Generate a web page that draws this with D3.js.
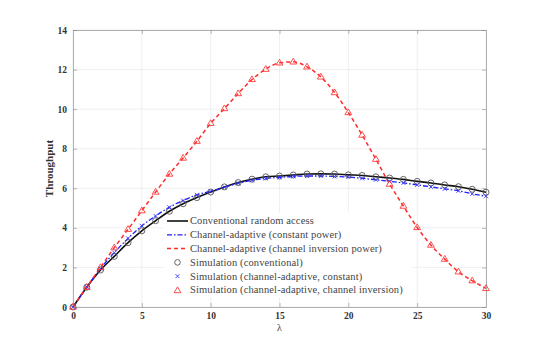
<!DOCTYPE html>
<html><head><meta charset="utf-8">
<script src="https://cdn.jsdelivr.net/npm/d3@7"></script>
<style>
html,body{margin:0;padding:0;background:#fff;}
svg{display:block;font-family:"Liberation Serif","DejaVu Serif",serif;}
</style></head>
<body><svg id="c" width="533" height="340"></svg>
<script>
const lambdas = d3.range(0, 31);
const conventional = [0,1.0,1.87,2.56,3.25,3.85,4.36,4.84,5.22,5.53,5.81,6.07,6.29,6.46,6.58,6.62,6.67,6.72,6.73,6.72,6.68,6.65,6.58,6.52,6.45,6.35,6.27,6.17,6.08,5.95,5.8];
const adaptiveConst = [0,1.0,1.95,2.75,3.47,4.1,4.6,5.04,5.38,5.67,5.85,6.05,6.25,6.4,6.5,6.55,6.6,6.62,6.62,6.6,6.57,6.5,6.43,6.35,6.27,6.17,6.07,5.97,5.87,5.72,5.6];
const adaptiveInv = [0,1.0,2.0,3.0,3.93,4.87,5.81,6.72,7.53,8.38,9.28,10.03,10.79,11.5,12.02,12.34,12.39,12.14,11.63,10.84,9.83,8.69,7.47,6.21,5.1,4.02,3.13,2.42,1.78,1.33,0.94];
const xTicks = [0,5,10,15,20,25,30];
const yTicks = [0,2,4,6,8,10,12,14];
const legendLabels = ["Conventional random access","Channel-adaptive (constant power)","Channel-adaptive (channel inversion power)","Simulation (conventional)","Simulation (channel-adaptive, constant)","Simulation (channel-adaptive, channel inversion)"];

const svg = d3.select("#c");
const L = 73, T = 30, W = 413, H = 277;
const x = d3.scaleLinear().domain([0,30]).range([L, L+W]);
const y = d3.scaleLinear().domain([0,14]).range([T+H, T]);

// grid
svg.append("g").selectAll("line").data(xTicks).join("line")
  .attr("x1", d=>x(d)).attr("x2", d=>x(d)).attr("y1", T).attr("y2", T+H)
  .attr("stroke","#ebebeb").attr("stroke-width",0.8);
svg.append("g").selectAll("line").data(yTicks).join("line")
  .attr("y1", d=>y(d)).attr("y2", d=>y(d)).attr("x1", L).attr("x2", L+W)
  .attr("stroke","#ebebeb").attr("stroke-width",0.8);

// axes
const axB = svg.append("g").attr("transform",`translate(0,${T+H})`)
  .call(d3.axisBottom(x).tickValues(xTicks).tickSize(-4).tickPadding(5));
const axT = svg.append("g").attr("transform",`translate(0,${T})`)
  .call(d3.axisTop(x).tickValues(xTicks).tickSize(-4).tickFormat(""));
const axL = svg.append("g").attr("transform",`translate(${L},0)`)
  .call(d3.axisLeft(y).tickValues(yTicks).tickSize(-4).tickPadding(6));
const axR = svg.append("g").attr("transform",`translate(${L+W},0)`)
  .call(d3.axisRight(y).tickValues(yTicks).tickSize(-4).tickFormat(""));
[axB,axT,axL,axR].forEach(a=>{
  a.selectAll("path").attr("stroke","#b0b0b0").attr("stroke-width",1);
  a.selectAll("line").attr("stroke","#888").attr("stroke-width",0.6);
  a.selectAll("text").attr("font-family","'Liberation Serif','DejaVu Serif',serif")
   .attr("font-size",9.5).attr("font-weight","bold").attr("fill","#333");
});

// axis labels
svg.append("text").attr("x", x(15)).attr("y", 331).attr("text-anchor","middle")
  .attr("font-size",10).attr("fill","#333").text("λ");
svg.append("text").attr("transform",`translate(53,${y(7)}) rotate(-90)`)
  .attr("text-anchor","middle").attr("font-size",11).attr("font-weight","bold")
  .attr("fill","#333").text("Throughput");

const line = d3.line().x((d,i)=>x(lambdas[i])).y(d=>y(d)).curve(d3.curveMonotoneX);

// legend background (drawn before curves)
const lgX = 163, lgY = 213, lgRow = 13.8;
svg.append("rect").attr("x",lgX).attr("y",lgY).attr("width",250).attr("height",lgRow*6+2).attr("fill","#fff");

svg.append("path").datum(conventional).attr("d",line).attr("fill","none")
  .attr("stroke","#111").attr("stroke-width",1.6);
svg.append("path").datum(adaptiveConst).attr("d",line).attr("fill","none")
  .attr("stroke","#1f1fff").attr("stroke-width",1.3).attr("stroke-dasharray","5,2,1.5,2");
svg.append("path").datum(adaptiveInv).attr("d",line).attr("fill","none")
  .attr("stroke","#ff2a2a").attr("stroke-width",1.5).attr("stroke-dasharray","4,3");

// markers
svg.append("g").selectAll("circle").data(conventional).join("circle")
  .attr("cx",(d,i)=>x(lambdas[i])).attr("cy",d=>y(d)).attr("r",3)
  .attr("fill","none").attr("stroke","#555").attr("stroke-width",0.9);
const cross = (g, cx, cy, s) => g.append("path")
  .attr("d",`M${cx-s},${cy-s}L${cx+s},${cy+s}M${cx-s},${cy+s}L${cx+s},${cy-s}`)
  .attr("stroke","#3a3aff").attr("stroke-width",0.9).attr("fill","none");
const gx = svg.append("g");
adaptiveConst.forEach((d,i)=>cross(gx, x(lambdas[i]), y(d), 2));
const tri = (cx, cy, s) => `M${cx},${cy-s}L${cx+s*0.95},${cy+s*0.6}L${cx-s*0.95},${cy+s*0.6}Z`;
svg.append("g").selectAll("path").data(adaptiveInv).join("path")
  .attr("d",(d,i)=>tri(x(lambdas[i]), y(d), 3.6))
  .attr("fill","none").attr("stroke","#ff3b3b").attr("stroke-width",0.9);

// legend
const lg = svg.append("g");
legendLabels.forEach((t,i)=>{
  const cy = lgY + 8 + i*lgRow;
  const x1 = lgX+4, x2 = lgX+25, xm = (x1+x2)/2;
  if (i===0) lg.append("line").attr("x1",x1).attr("x2",x2).attr("y1",cy).attr("y2",cy).attr("stroke","#111").attr("stroke-width",1.6);
  if (i===1) lg.append("line").attr("x1",x1).attr("x2",x2).attr("y1",cy).attr("y2",cy).attr("stroke","#1f1fff").attr("stroke-width",1.3).attr("stroke-dasharray","5,2,1.5,2");
  if (i===2) lg.append("line").attr("x1",x1).attr("x2",x2).attr("y1",cy).attr("y2",cy).attr("stroke","#ff2a2a").attr("stroke-width",1.5).attr("stroke-dasharray","4,3");
  if (i===3) lg.append("circle").attr("cx",xm).attr("cy",cy).attr("r",2.8).attr("fill","none").attr("stroke","#555").attr("stroke-width",0.9);
  if (i===4) cross(lg, xm, cy, 2);
  if (i===5) lg.append("path").attr("d",tri(xm, cy+0.5, 3.6)).attr("fill","none").attr("stroke","#ff3b3b").attr("stroke-width",0.9);
  lg.append("text").attr("x",lgX+27).attr("y",cy+3.3).attr("font-size",10.5)
    .attr("letter-spacing",0.12).attr("fill","#444").text(t);
});
</script></body></html>
